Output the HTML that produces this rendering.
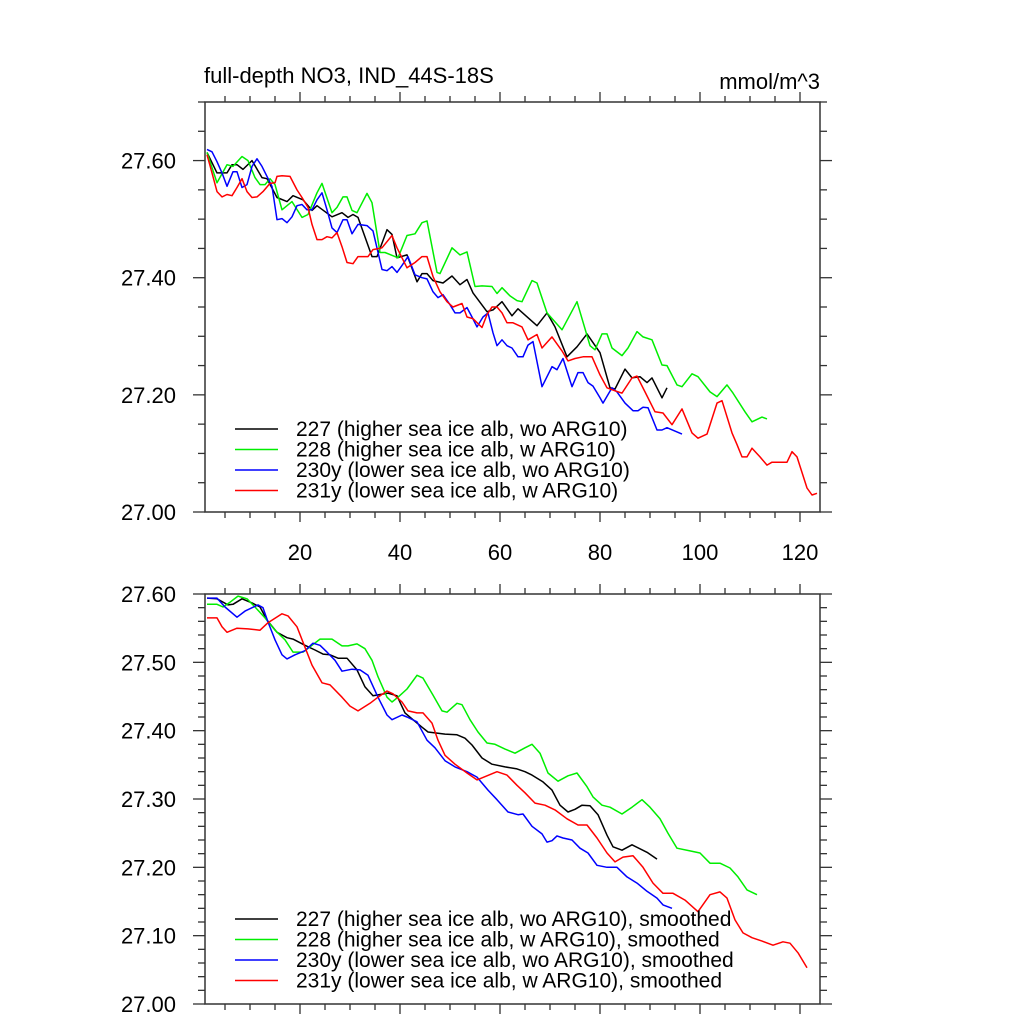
<!DOCTYPE html>
<html><head><meta charset="utf-8"><style>
html,body{margin:0;padding:0;background:#fff;}
svg{display:block;font-family:"Liberation Sans",Arial,sans-serif;}
</style></head><body>
<svg id="chart" width="1024" height="1024" viewBox="0 0 1024 1024" xmlns="http://www.w3.org/2000/svg">
<rect x="0" y="0" width="1024" height="1024" fill="#fff"/>
<text x="204" y="83" font-size="22" fill="#000">full-depth NO3, IND_44S-18S</text>
<text x="820" y="89" font-size="22" fill="#000" text-anchor="end">mmol/m^3</text>
<g id="top"></g>
<g id="bot"></g>
</svg>
<script>
// ---- Top panel data (x in years, values in mmol/m^3) ----
const topBlackX=[1.4,3.4,5.4,6.4,7.4,8.6,10.4,12.4,13.4,15.4,17.4,18.6,20.6,22.4,23.4,26.4,28.4,29.6,30.6,31.6,34.4,35.4,37.4,38.4,39.4,41.4,43.4,44.4,45.4,46.6,48.6,50.4,52,53.4,54.6,57.4,58.6,60.4,62.4,63.6,67.4,69.4,71,73.4,75.4,77.4,80,82,83,85,86.4,88,89.4,90.4,92.4,93.4];
const topBlackV=[27.614,27.579,27.579,27.593,27.593,27.585,27.600,27.571,27.569,27.537,27.530,27.540,27.533,27.515,27.523,27.504,27.511,27.503,27.508,27.503,27.436,27.436,27.482,27.474,27.434,27.439,27.393,27.407,27.407,27.395,27.391,27.403,27.388,27.397,27.374,27.342,27.345,27.359,27.335,27.347,27.318,27.340,27.316,27.265,27.282,27.304,27.272,27.212,27.210,27.244,27.229,27.231,27.221,27.229,27.195,27.212];
const topGreenX=[1.4,3.4,5.4,6.6,8.4,9.6,11,12,13,14,15,16.4,18.4,20.4,21.6,23.4,24.4,26.4,27.4,28.6,29.4,30.4,31.4,33.4,34.4,36,37,39.6,41.4,43,44.4,45.4,47.4,48,50.4,52,53.4,55,56.4,58.4,59.4,60.4,62,63.4,64.4,66.4,67.4,69.4,72.4,75.4,78,79,80.4,81.4,82.4,84.4,85.6,87.4,88.6,90.4,92.4,93.4,95.4,96.4,98.4,99.6,102,103.4,105.4,106.6,109,110.4,112.4,113.4];
const topGreenV=[27.614,27.562,27.593,27.590,27.607,27.600,27.571,27.559,27.559,27.569,27.559,27.516,27.530,27.503,27.508,27.545,27.561,27.511,27.520,27.538,27.538,27.515,27.511,27.544,27.528,27.443,27.443,27.434,27.472,27.475,27.494,27.497,27.409,27.407,27.451,27.439,27.444,27.385,27.386,27.385,27.373,27.383,27.369,27.361,27.359,27.395,27.391,27.340,27.311,27.359,27.284,27.277,27.304,27.304,27.280,27.267,27.280,27.308,27.299,27.294,27.251,27.250,27.217,27.214,27.236,27.231,27.205,27.197,27.217,27.203,27.171,27.154,27.162,27.159];
const topBlueX=[1.4,2.4,3.4,4.4,5.4,6.6,7.4,8.4,9.4,10.4,11.4,12.4,13.4,14.4,15.4,16.4,17.4,18.4,19.4,20.4,21.4,22.4,23.4,24.4,25.4,26.4,27.4,28.6,29.4,30.4,31.6,33.4,34.6,36.4,37.4,38.4,39.4,40.4,41.6,43,44.4,45.4,46.6,47.6,48.6,50,51,52,53.4,54.4,55.4,56.6,57.6,58.6,59.4,60.4,61.4,62.4,63.6,64.6,65.6,66.6,68.4,70.4,71.4,72.6,74.4,75.6,76.6,77.6,78.6,80,80.6,82.4,83.4,85,86.6,87.6,88.6,89.6,91.4,92.4,93.4,96.4];
const topBlueV=[27.619,27.615,27.598,27.579,27.556,27.581,27.581,27.554,27.559,27.590,27.603,27.590,27.573,27.556,27.499,27.501,27.494,27.504,27.523,27.525,27.516,27.516,27.533,27.545,27.516,27.485,27.477,27.499,27.499,27.475,27.491,27.489,27.480,27.414,27.412,27.419,27.409,27.421,27.436,27.405,27.400,27.398,27.376,27.366,27.371,27.354,27.340,27.340,27.349,27.333,27.316,27.333,27.340,27.306,27.284,27.294,27.284,27.280,27.265,27.265,27.285,27.291,27.214,27.248,27.243,27.262,27.214,27.238,27.238,27.221,27.215,27.195,27.186,27.212,27.205,27.186,27.173,27.173,27.179,27.178,27.140,27.140,27.144,27.133];
const topRedX=[1.4,2.4,3.4,4.4,5.4,6.4,7.4,8.4,9.4,10.4,11.4,12.6,14,15,15.4,16.4,18,19.4,20.4,21.6,22.4,23.4,24.4,25.4,26.4,27.4,28.4,29.4,30.6,31.6,33.6,34.6,36.4,38.4,39.4,41.4,43,44.4,45.4,46.6,48,49.4,50.6,52.4,53.4,54.6,56.4,57.4,58.4,59.4,60.4,61.4,62.6,64.4,65.6,67.4,68.4,70.4,72.4,73.6,75,76.6,78.4,80,81.4,83,84.4,86.4,87.4,89,91,92.6,94.4,96.4,98.4,99.6,101.4,103.4,104.4,106.4,107.4,108.4,109.4,110.4,112,113.4,114.4,117.4,118.4,119.4,121.4,122.4,123.4];
const topRedV=[27.610,27.579,27.547,27.538,27.542,27.540,27.554,27.569,27.547,27.537,27.538,27.547,27.561,27.562,27.573,27.574,27.573,27.550,27.537,27.520,27.491,27.465,27.465,27.470,27.468,27.477,27.453,27.426,27.424,27.436,27.436,27.448,27.451,27.472,27.451,27.417,27.426,27.436,27.436,27.402,27.376,27.359,27.350,27.356,27.333,27.330,27.315,27.337,27.350,27.350,27.340,27.323,27.323,27.316,27.294,27.303,27.280,27.299,27.275,27.258,27.262,27.265,27.265,27.234,27.212,27.207,27.203,27.229,27.232,27.205,27.171,27.169,27.149,27.176,27.135,27.126,27.133,27.186,27.190,27.135,27.115,27.094,27.094,27.109,27.094,27.080,27.085,27.085,27.103,27.094,27.041,27.029,27.032];
// ---- Bottom panel data (smoothed) ----
const botBlackX=[1.4,3.4,5.6,6.6,8.4,10.4,12,13.4,15.4,17.4,18.6,21,23,24.6,26,27.6,29.4,31.4,33,34.6,37.6,39.4,41,42.6,44.4,45.6,49,51.4,53,54.4,56.4,58.4,61,63.4,65,66.4,68.6,70.4,72,73.6,75,76.4,78,79.6,81.4,82.6,84.4,86.4,89.4,91.4];
const botBlackV=[27.594,27.593,27.584,27.585,27.593,27.587,27.581,27.562,27.544,27.536,27.534,27.525,27.518,27.512,27.511,27.506,27.506,27.489,27.464,27.451,27.455,27.451,27.426,27.416,27.405,27.398,27.395,27.394,27.389,27.379,27.360,27.351,27.347,27.344,27.340,27.335,27.325,27.313,27.291,27.281,27.285,27.291,27.290,27.277,27.247,27.230,27.225,27.233,27.222,27.212];
const botGreenX=[1.4,3.4,4.6,6,7.6,9.4,11,13,15,17,18.6,20.6,22.4,24,26.4,28.4,29.6,31.4,33,34.4,35.6,37.4,38.4,39.6,41.4,43.4,44.6,46.6,48.4,49.4,51.4,52.4,54,55.6,57.4,59,61,63,65,66.4,68,69.6,71.6,73.6,75.4,77.4,78.6,80.4,82,84.4,86.4,88.4,90,92,93.6,95.4,98,100,102,104,106,107.6,109.4,111.4];
const botGreenV=[27.585,27.585,27.581,27.588,27.597,27.593,27.581,27.565,27.547,27.533,27.515,27.515,27.525,27.534,27.534,27.524,27.524,27.527,27.520,27.503,27.479,27.449,27.442,27.449,27.461,27.481,27.477,27.452,27.429,27.427,27.440,27.438,27.416,27.398,27.382,27.380,27.373,27.367,27.375,27.380,27.367,27.338,27.326,27.334,27.338,27.318,27.303,27.291,27.288,27.278,27.288,27.299,27.288,27.271,27.250,27.228,27.224,27.221,27.206,27.206,27.199,27.186,27.167,27.160];
const botBlueX=[1.4,3.4,5,7.4,9,11.6,12.6,13.6,15,16.4,17.4,19,21,22.6,24,25.4,27,28.4,30.4,32,33.6,35.6,37.4,38.4,40.4,41.4,43.4,45.4,47,49,51,53.4,55.4,57.6,59.4,61.6,63.6,64.6,66.4,68.4,69.4,70.4,71.4,72.6,74.4,76,77.6,79.4,81.4,83.4,85.4,87.4,89.4,91.4,92.6,94.4];
const botBlueV=[27.594,27.594,27.581,27.566,27.575,27.584,27.580,27.559,27.533,27.511,27.505,27.511,27.517,27.528,27.525,27.515,27.503,27.487,27.490,27.489,27.481,27.449,27.423,27.416,27.423,27.420,27.413,27.386,27.375,27.356,27.347,27.340,27.332,27.313,27.299,27.281,27.277,27.278,27.260,27.249,27.237,27.239,27.246,27.243,27.240,27.228,27.221,27.203,27.200,27.200,27.186,27.177,27.165,27.155,27.145,27.140];
const botRedX=[1.4,3.4,4.4,5.4,7.4,9.6,12,13.6,16.4,17.6,19.4,21,22.4,24.4,26,28.4,30,31.6,34,35.6,37.4,38.6,40.4,41.6,43.4,44.6,46.4,47.6,49,51,53.4,55.4,57.4,59.4,61.4,63.4,65,67,69,71,73.4,75.6,77.4,79.4,81.4,83,84.6,86.6,88.6,90.6,92.6,94.6,97,99.6,102,104,105.4,107,108.6,110.4,112.4,114.6,116.6,118,119.6,121.4];
const botRedV=[27.565,27.565,27.552,27.544,27.550,27.549,27.547,27.558,27.571,27.568,27.552,27.522,27.496,27.470,27.467,27.449,27.436,27.429,27.440,27.449,27.458,27.454,27.442,27.429,27.426,27.426,27.411,27.386,27.364,27.351,27.338,27.328,27.334,27.340,27.335,27.320,27.309,27.294,27.291,27.284,27.271,27.262,27.262,27.243,27.221,27.208,27.215,27.217,27.200,27.177,27.162,27.162,27.152,27.135,27.160,27.164,27.155,27.123,27.104,27.097,27.092,27.086,27.091,27.089,27.075,27.053];
// ---- Axis tick labels ----
const xTickValues=[20,40,60,80,100,120];
const topYTicks=[27.00,27.20,27.40,27.60];
const botYTicks=[27.00,27.10,27.20,27.30,27.40,27.50,27.60];
const topLegend=["227 (higher sea ice alb, wo ARG10)","228 (higher sea ice alb, w ARG10)","230y (lower sea ice alb, wo ARG10)","231y (lower sea ice alb, w ARG10)"];
const botLegend=["227 (higher sea ice alb, wo ARG10), smoothed","228 (higher sea ice alb, w ARG10), smoothed","230y (lower sea ice alb, wo ARG10), smoothed","231y (lower sea ice alb, w ARG10), smoothed"];
const colors=["#000000","#00ee00","#0000ff","#ff0000"];

const NS="http://www.w3.org/2000/svg";
function mk(parent,tag,attrs){const e=document.createElementNS(NS,tag);for(const k in attrs)e.setAttribute(k,attrs[k]);parent.appendChild(e);return e;}
const X0=205,X1=820,XMIN=1,XMAX=124;
function sx(u){return X0+(u-XMIN)*(X1-X0)/(XMAX-XMIN);}

function panel(g,yTop,yBot,vMin,vMax,yTicks,minorStep,showXLabels,series,legend,legY,name){
  const sy=v=>yBot-(v-vMin)*(yBot-yTop)/(vMax-vMin);
  const ax="#333";
  for(let u=5;u<=XMAX;u+=5){
    const major=u%20===0,len=major?10:6,x=sx(u);
    const t1=mk(g,'line',{x1:x,y1:yBot,x2:x,y2:yBot+len,stroke:ax,'stroke-width':1.3});
    
    
    const t2=mk(g,'line',{x1:x,y1:yTop,x2:x,y2:yTop-len,stroke:ax,'stroke-width':1.3});
    
    
  }
  const nMinor=Math.round((vMax-vMin)/minorStep);
  for(let i=0;i<=nMinor;i++){
    const v=vMin+i*minorStep,y=sy(v);
    const major=yTicks.some(t=>Math.abs(t-v)<1e-6),len=major?12:7;
    const a=mk(g,'line',{x1:X0,y1:y,x2:X0-len,y2:y,stroke:ax,'stroke-width':1.3});
    
    
    const b=mk(g,'line',{x1:X1,y1:y,x2:X1+len,y2:y,stroke:ax,'stroke-width':1.3});
    
    
  }
  yTicks.forEach(t=>{
    const tx=mk(g,'text',{x:176,y:sy(t)+8,'font-size':22,'text-anchor':'end',fill:'#000'});
    tx.textContent=t.toFixed(2);
    
    
  });
  if(showXLabels){
    xTickValues.forEach(t=>{
      const tx=mk(g,'text',{x:sx(t),y:yBot+48,'font-size':22,'text-anchor':'middle',fill:'#000'});
      tx.textContent=String(t);
      
      
    });
  }
  series.forEach((s,i)=>{
    const d=s[0].map((u,j)=>(j?'L':'M')+sx(u).toFixed(1)+' '+sy(s[1][j]).toFixed(1)).join(' ');
    const p=mk(g,'path',{d:d,fill:'none',stroke:colors[i],'stroke-width':1.5,'stroke-linejoin':'round'});
    
    
  });
  const f=mk(g,'rect',{x:X0,y:yTop,width:X1-X0,height:yBot-yTop,fill:'none',stroke:ax,'stroke-width':1.5});
  
  
  legend.forEach((lab,i)=>{
    const y=legY+i*20.5;
    const l=mk(g,'line',{x1:235,y1:y,x2:278,y2:y,stroke:colors[i],'stroke-width':1.5});
    
    
    const t=mk(g,'text',{x:296,y:y+7,'font-size':21,fill:'#000'});
    t.textContent=lab;
    
    
  });
}
panel(document.getElementById('top'),102,512,27.0,27.7,topYTicks,0.05,true,
  [[topBlackX,topBlackV],[topGreenX,topGreenV],[topBlueX,topBlueV],[topRedX,topRedV]],topLegend,429,'top');
panel(document.getElementById('bot'),594,1004,27.0,27.6,botYTicks,0.02,false,
  [[botBlackX,botBlackV],[botGreenX,botGreenV],[botBlueX,botBlueV],[botRedX,botRedV]],botLegend,919,'bottom');
</script>
</body></html>
